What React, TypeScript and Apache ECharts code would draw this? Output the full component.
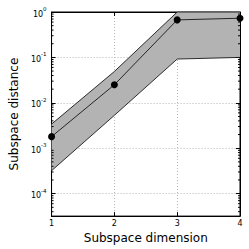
import React, { useEffect, useRef } from 'react';
import * as echarts from 'echarts';

const dims = [1, 2, 3, 4];
const meanDist = [1.8e-3, 2.5e-2, 0.67, 0.73];
const upperDist = [3.4e-3, 4.9e-2, 1.0, 1.0];
const lowerDist = [3.2e-4, 5.3e-3, 0.092, 0.1];
const yMin = 3.2e-5;
const yMax = 1;
const minorDecades = [1e-5, 1e-4, 1e-3, 1e-2, 1e-1];
const minorMultipliers = [2, 3, 4, 5, 6, 7, 8, 9];

const FONT = 'DejaVu Sans';

export default function App() {
  const ref = useRef<HTMLDivElement>(null);
  useEffect(() => {
    if (!ref.current) return;
    const chart = echarts.init(ref.current, undefined, { renderer: 'svg' });
    const minorValues: number[] = [];
    minorDecades.forEach((d) => minorMultipliers.forEach((m) => {
      const v = d * m;
      if (v > yMin && v < yMax) minorValues.push(v);
    }));
    const yLabel = (value: number) => {
      const l = Math.log10(value);
      const e = Math.round(l);
      if (Math.abs(l - e) > 1e-6) return '';
      return `{b|10}{s|${e}}`;
    };
    const tickLine = { lineStyle: { color: '#000', width: 1 } };
    const gridLine = { show: true, lineStyle: { color: '#b5b5b5', type: [1, 2], width: 1 } };
    chart.setOption({
      animation: false,
      textStyle: { fontFamily: FONT },
      grid: { left: 41, right: 9, top: 12, bottom: 31, show: true, borderColor: '#000', borderWidth: 1, backgroundColor: 'transparent' },
      xAxis: [
        {
          type: 'value', min: 1, max: 4, interval: 1, position: 'bottom',
          name: 'Subspace dimension', nameLocation: 'middle', nameGap: 11,
          nameTextStyle: { fontSize: 12, color: '#000', fontFamily: FONT },
          axisLine: { show: true, lineStyle: { color: '#000', width: 1 } },
          axisTick: { show: true, inside: true, length: 4, ...tickLine },
          axisLabel: { fontSize: 8, color: '#000', margin: 3, fontFamily: FONT },
          splitLine: gridLine,
        },
        {
          type: 'value', min: 1, max: 4, interval: 1, position: 'top',
          axisLine: { show: true, lineStyle: { color: '#000', width: 1 } },
          axisTick: { show: true, inside: true, length: 4, ...tickLine },
          axisLabel: { show: false },
          splitLine: { show: false },
        },
      ],
      yAxis: [
        {
          type: 'log', logBase: 10, min: yMin, max: yMax, position: 'left',
          name: 'Subspace distance', nameLocation: 'middle', nameGap: 24,
          nameTextStyle: { fontSize: 12, color: '#000', fontFamily: FONT },
          axisLine: { show: true, lineStyle: { color: '#000', width: 1 } },
          axisTick: { show: true, inside: true, length: 4, ...tickLine },
          axisLabel: {
            formatter: yLabel, margin: 5, color: '#000',
            rich: {
              b: { fontSize: 8, lineHeight: 12, verticalAlign: 'bottom', fontFamily: FONT, color: '#000' },
              s: { fontSize: 5.5, lineHeight: 5, verticalAlign: 'top', fontFamily: FONT, color: '#000' },
            },
          },
          splitLine: gridLine,
        },
        {
          type: 'log', logBase: 10, min: yMin, max: yMax, position: 'right',
          axisLine: { show: true, lineStyle: { color: '#000', width: 1 } },
          axisTick: { show: true, inside: true, length: 4, ...tickLine },
          axisLabel: { show: false },
          splitLine: { show: false },
        },
      ],
      series: [
        {
          type: 'custom',
          clip: true,
          z: 1,
          data: [0],
          renderItem: (params: any, api: any) => {
            const pts: number[][] = [];
            dims.forEach((d, i) => pts.push(api.coord([d, upperDist[i]])));
            for (let i = dims.length - 1; i >= 0; i--) pts.push(api.coord([dims[i], lowerDist[i]]));
            return { type: 'polygon', shape: { points: pts }, style: { fill: '#b3b3b3', stroke: 'none' } };
          },
        },
        {
          type: 'line', z: 2, data: dims.map((d, i) => [d, upperDist[i]]), symbol: 'none',
          lineStyle: { color: '#000', width: 0.8 }, clip: true,
        },
        {
          type: 'line', z: 2, data: dims.map((d, i) => [d, lowerDist[i]]), symbol: 'none',
          lineStyle: { color: '#000', width: 0.8 }, clip: true,
        },
        {
          type: 'line', z: 3, data: dims.map((d, i) => [d, meanDist[i]]), symbol: 'circle', symbolSize: 7,
          itemStyle: { color: '#000' }, lineStyle: { color: '#000', width: 0.8 }, clip: false,
        },
        {
          type: 'custom', z: 4, silent: true,
          data: minorValues,
          renderItem: (params: any, api: any) => {
            const v = api.value(0);
            const l = api.coord([dims[0], v]);
            const r = api.coord([dims[dims.length - 1], v]);
            return {
              type: 'group',
              children: [
                { type: 'line', shape: { x1: l[0], y1: l[1], x2: l[0] + 2, y2: l[1] }, style: { stroke: '#000', lineWidth: 1 } },
                { type: 'line', shape: { x1: r[0] - 2, y1: r[1], x2: r[0], y2: r[1] }, style: { stroke: '#000', lineWidth: 1 } },
              ],
            };
          },
          encode: { y: 0 },
        },
      ],
    });
    return () => chart.dispose();
  }, []);
  return <div ref={ref} style={{ position: 'fixed', left: 0, top: 0, width: 249, height: 249, background: '#fff' }} />;
}
